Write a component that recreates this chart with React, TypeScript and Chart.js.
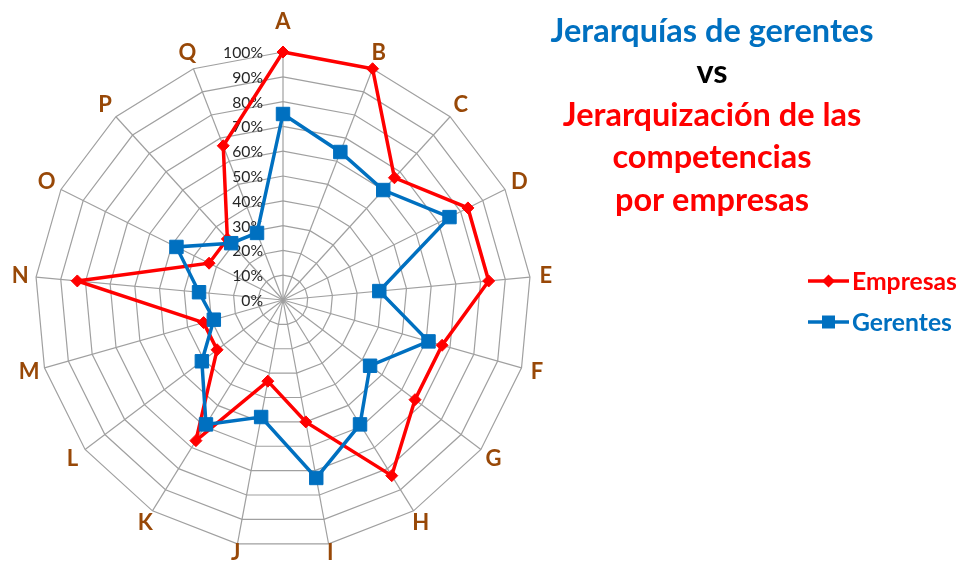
import React, { useEffect, useRef } from 'react';
import { Chart, registerables } from 'chart.js';

Chart.register(...registerables);

const categories = ['A', 'B', 'C', 'D', 'E', 'F', 'G', 'H', 'I', 'J', 'K', 'L', 'M', 'N', 'O', 'P', 'Q'];
const empresas = [100, 100, 66.7, 83.3, 83.3, 66.7, 66.7, 83.3, 50, 33.3, 66.7, 33.3, 33.3, 83.3, 33.3, 33.3, 66.7];
const gerentes = [75, 64, 60, 75, 39, 61, 44, 59, 73, 48, 59, 41, 29, 34, 48, 31, 29];
const tickValues = [0, 10, 20, 30, 40, 50, 60, 70, 80, 90, 100];
const tickLabels = ['0%', '10%', '20%', '30%', '40%', '50%', '60%', '70%', '80%', '90%', '100%'];
const titleLines = [
  { text: 'Jerarquías de gerentes', color: '#0070C0' },
  { text: 'vs', color: '#000000' },
  { text: 'Jerarquización de las', color: '#FF0000' },
  { text: 'competencias', color: '#FF0000' },
  { text: 'por empresas', color: '#FF0000' },
];

const FAMILY = 'Lato, "Open Sans", "Liberation Sans", sans-serif';

function fitSize(ctx: CanvasRenderingContext2D, text: string, target: number, weight: string) {
  ctx.font = `${weight} 100px ${FAMILY}`;
  const w = ctx.measureText(text).width;
  return (100 * target) / w;
}

const overlayPlugin = {
  id: 'overlay',
  beforeDatasetsDraw(chart: any) {
    const ctx: CanvasRenderingContext2D = chart.ctx;
    const r = chart.scales.r;
    ctx.save();
    const size = fitSize(ctx, '100%', 40, 'normal');
    ctx.font = `normal ${size}px ${FAMILY}`;
    ctx.fillStyle = '#262626';
    ctx.textAlign = 'right';
    ctx.textBaseline = 'middle';
    tickValues.forEach((v, i) => {
      const d = r.getDistanceFromCenterForValue(v);
      ctx.fillText(tickLabels[i], r.xCenter - 20, r.yCenter - d + 1);
    });
    ctx.restore();
  },
  afterDraw(chart: any) {
    const ctx: CanvasRenderingContext2D = chart.ctx;
    const r = chart.scales.r;
    ctx.save();
    // point labels
    ctx.font = `bold 22px ${FAMILY}`;
    ctx.fillStyle = '#984807';
    ctx.textAlign = 'center';
    ctx.textBaseline = 'middle';
    const R = r.drawingArea;
    categories.forEach((c, i) => {
      const ang = r.getIndexAngle(i) - Math.PI / 2;
      const s = Math.sin(ang);
      const extra = 16 + 14 * Math.pow(Math.max(0, -s), 40) - 8 * Math.pow(Math.max(0, s), 8);
      const p = r.getPointPosition(i, R + extra);
      ctx.fillText(c, p.x, p.y);
    });

    // title
    const tSize = fitSize(ctx, titleLines[0].text, 323, 'bold');
    ctx.font = `bold ${tSize}px ${FAMILY}`;
    ctx.textAlign = 'center';
    ctx.textBaseline = 'alphabetic';
    const baselines = [42, 83, 126, 168, 211];
    titleLines.forEach((l, i) => {
      ctx.fillStyle = l.color;
      ctx.fillText(l.text, 712, baselines[i]);
    });

    // legend
    const lSize = fitSize(ctx, 'Empresas', 105, 'bold');
    const legendY = [281, 322];
    chart.data.datasets.forEach((ds: any, i: number) => {
      const y = legendY[i];
      ctx.strokeStyle = ds.borderColor;
      ctx.lineWidth = 3.5;
      ctx.beginPath();
      ctx.moveTo(808, y);
      ctx.lineTo(849, y);
      ctx.stroke();
      ctx.fillStyle = ds.pointBackgroundColor;
      const cx = 828.5;
      ctx.beginPath();
      if (ds.pointStyle === 'rectRot') {
        const rr = ds.pointRadius + 0.5;
        ctx.moveTo(cx - rr, y);
        ctx.lineTo(cx, y - rr);
        ctx.lineTo(cx + rr, y);
        ctx.lineTo(cx, y + rr);
        ctx.closePath();
      } else {
        const h = 6.5;
        ctx.rect(cx - h, y - h, 2 * h, 2 * h);
      }
      ctx.fill();
      ctx.font = `bold ${lSize}px ${FAMILY}`;
      ctx.textAlign = 'left';
      ctx.textBaseline = 'middle';
      ctx.fillStyle = ds.borderColor;
      ctx.fillText(ds.label, 852, y + 1);
    });
    ctx.restore();
  },
};

export default function App() {
  const ref = useRef<HTMLCanvasElement | null>(null);
  useEffect(() => {
    if (!ref.current) return;
    const chart = new Chart(ref.current, {
      type: 'radar',
      data: {
        labels: categories,
        datasets: [
          {
            label: 'Empresas',
            data: empresas,
            borderColor: '#FF0000',
            backgroundColor: '#FF0000',
            pointBackgroundColor: '#FF0000',
            pointBorderColor: '#FF0000',
            pointStyle: 'rectRot',
            pointRadius: 6,
            pointBorderWidth: 1,
            borderWidth: 3.5,
            fill: false,
            order: 1,
          },
          {
            label: 'Gerentes',
            data: gerentes,
            borderColor: '#0070C0',
            backgroundColor: '#0070C0',
            pointBackgroundColor: '#0070C0',
            pointBorderColor: '#0070C0',
            pointStyle: 'rect',
            pointRadius: 9.5,
            pointBorderWidth: 1,
            borderWidth: 3.5,
            fill: false,
            order: 0,
          },
        ],
      } as any,
      options: {
        responsive: false,
        animation: false,
        layout: { padding: { left: 35, top: 52, right: 428, bottom: 18 } },
        plugins: {
          legend: { display: false },
          title: { display: false },
          tooltip: { enabled: false },
        },
        elements: { line: { tension: 0 } },
        scales: {
          r: {
            min: 0,
            max: 100,
            startAngle: 0,
            ticks: { display: false, stepSize: 10 },
            pointLabels: { display: false },
            grid: { color: '#a0a0a0', lineWidth: 1.2 },
            angleLines: { color: '#a0a0a0', lineWidth: 1.2 },
          },
        },
      } as any,
      plugins: [overlayPlugin],
    });
    return () => chart.destroy();
  }, []);
  return (
    <div style={{ position: 'fixed', left: 0, top: 0, width: 959, height: 566, background: '#fff' }}>
      <canvas ref={ref} width={959} height={566} style={{ display: 'block' }} />
    </div>
  );
}
